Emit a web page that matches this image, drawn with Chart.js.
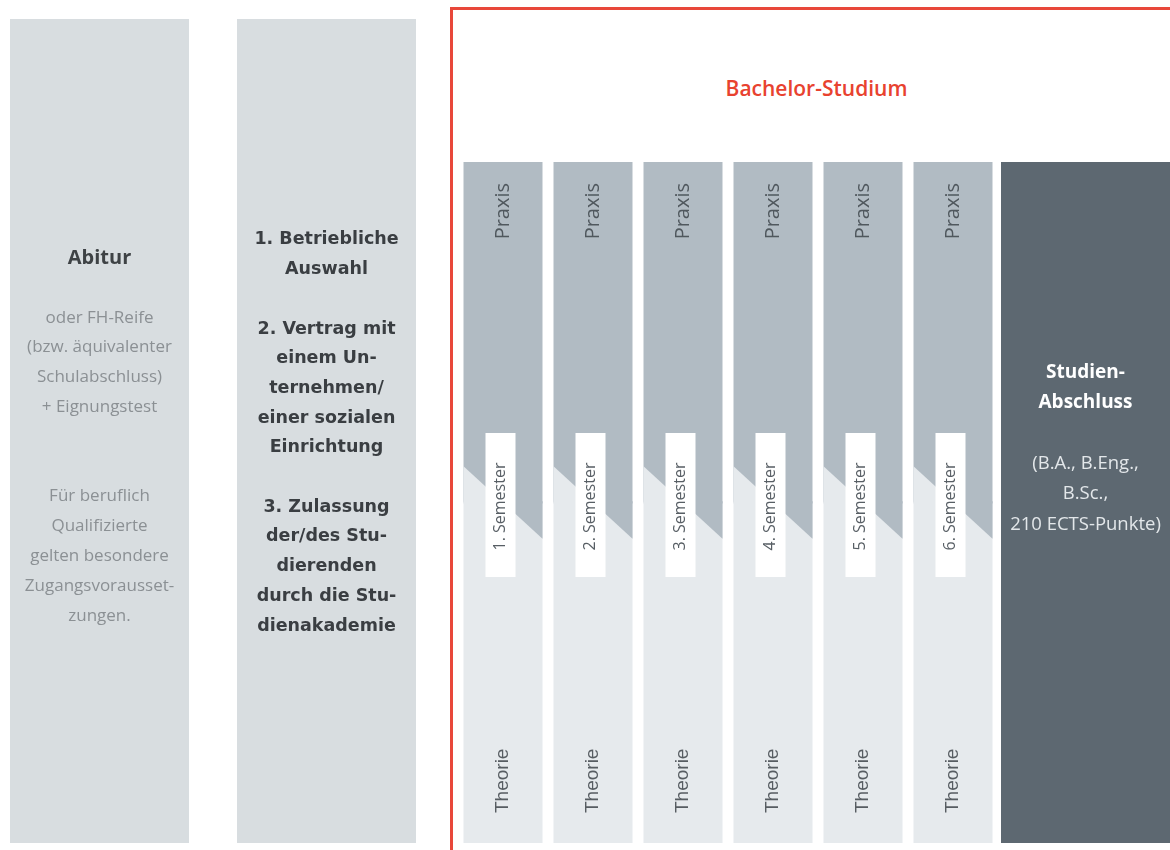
<!DOCTYPE html>
<html lang="de">
<head>
<meta charset="utf-8">
<title>Ablauf Bachelor-Studium</title>
<script src="https://cdn.jsdelivr.net/npm/chart.js@4.4.1/dist/chart.umd.min.js"></script>
<style>
  html, body { margin: 0; padding: 0; background: #ffffff; }
  body { position: relative; width: 1170px; height: 850px; overflow: hidden; }
  canvas { position: absolute; top: 0; }
  #zugangChart { left: -14px; }
  #semesterChart { left: 458px; }
  #abschlussChart { left: 1001px; }
  .rahmen {
    position: absolute; left: 450px; top: 7px; width: 740px; height: 880px;
    border: 3px solid #e8473a; box-sizing: border-box;
  }
  .titel {
    position: absolute; left: 452px; top: 74px; width: 729px; text-align: center;
    font: 600 21px 'Open Sans', sans-serif; color: #e8422f; line-height: 28px;
  }
</style>
</head>
<body>
<div class="rahmen"></div>
<div class="titel">Bachelor-Studium</div>
<canvas id="zugangChart" width="454" height="850"></canvas>
<canvas id="semesterChart" width="540" height="850"></canvas>
<canvas id="abschlussChart" width="169" height="850"></canvas>

<script>
// Daten
const zugangLabels = ['Abitur', 'Auswahl'];
const zugangWerte = [100, 100];
const semester = ['1. Semester', '2. Semester', '3. Semester', '4. Semester', '5. Semester', '6. Semester'];
const theorieAnteil = [50, 50, 50, 50, 50, 50];
const praxisAnteil = [50, 50, 50, 50, 50, 50];
const abschlussLabels = ['Studien-Abschluss'];
const abschlussWerte = [100];

// Texte (k = Kopfzeile, t = Text, '' = Leerzeile)
const abiturText = [
  ['k', 'Abitur'], ['', ''],
  ['t', 'oder FH-Reife'], ['t', '(bzw. äquivalenter'], ['t', 'Schulabschluss)'], ['t', '+ Eignungstest'],
  ['', ''], ['', ''],
  ['t', 'Für beruflich'], ['t', 'Qualifizierte'], ['t', 'gelten besondere'], ['t', 'Zugangsvorausset-'], ['t', 'zungen.']
];
const auswahlText = [
  ['k', '1. Betriebliche'], ['k', 'Auswahl'], ['', ''],
  ['k', '2. Vertrag mit'], ['k', 'einem Un-'], ['k', 'ternehmen/'], ['k', 'einer sozialen'], ['k', 'Einrichtung'], ['', ''],
  ['k', '3. Zulassung'], ['k', 'der/des Stu-'], ['k', 'dierenden'], ['k', 'durch die Stu-'], ['k', 'dienakademie']
];
const abschlussText = [
  ['k', 'Studien-'], ['k', 'Abschluss'], ['', ''],
  ['t', '(B.A., B.Eng.,'], ['t', 'B.Sc.,'], ['t', '210 ECTS-Punkte)']
];

const farben = {
  zugang: '#d8dde0',
  praxis: '#b1bbc3',
  theorie: '#e6eaed',
  abschluss: '#5d6871'
};

// Text mittig in die Balken schreiben
const spaltenText = {
  id: 'spaltenText',
  afterDatasetsDraw(chart, args, opts) {
    const ctx = chart.ctx;
    const bars = chart.getDatasetMeta(0).data;
    opts.bloecke.forEach((block, i) => {
      const bar = bars[i];
      const mitte = (bar.y + bar.base) / 2 + block.versatz;
      let y = mitte - (block.zeilen.length - 1) * block.zeilenhoehe / 2;
      ctx.save();
      ctx.textAlign = 'center';
      ctx.textBaseline = 'middle';
      block.zeilen.forEach(([art, text]) => {
        if (art) {
          ctx.font = block.stil[art].font;
          ctx.fillStyle = block.stil[art].farbe;
          ctx.fillText(text, bar.x, y);
        }
        y += block.zeilenhoehe;
      });
      ctx.restore();
    });
  }
};

// Schraege Trennung Praxis/Theorie, Semester-Schild, Beschriftungen
const semesterDeko = {
  id: 'semesterDeko',
  afterDatasetsDraw(chart) {
    const ctx = chart.ctx;
    const theo = chart.getDatasetMeta(0).data;
    const prax = chart.getDatasetMeta(1).data;
    const theoLabel = chart.data.datasets[0].label;
    const praxLabel = chart.data.datasets[1].label;
    prax.forEach((bar, i) => {
      const links = bar.x - bar.width / 2;
      const rechts = bar.x + bar.width / 2;
      const grenze = bar.base;
      const hang = bar.width * 0.46;

      ctx.save();
      // Naht zwischen den gestapelten Balken abdecken
      ctx.fillStyle = farben.theorie;
      ctx.fillRect(links, grenze - 1, bar.x - links, 2);
      ctx.fillStyle = farben.praxis;
      ctx.fillRect(bar.x, grenze - 1, rechts - bar.x, 2);

      ctx.fillStyle = farben.theorie;
      ctx.beginPath();
      ctx.moveTo(links, grenze - hang);
      ctx.lineTo(links, grenze + 1);
      ctx.lineTo(bar.x, grenze + 1);
      ctx.lineTo(bar.x, grenze);
      ctx.closePath();
      ctx.fill();

      ctx.fillStyle = farben.praxis;
      ctx.beginPath();
      ctx.moveTo(bar.x, grenze);
      ctx.lineTo(bar.x, grenze - 1);
      ctx.lineTo(rechts, grenze - 1);
      ctx.lineTo(rechts, grenze + hang);
      ctx.closePath();
      ctx.fill();

      // weisses Schild
      ctx.fillStyle = '#ffffff';
      ctx.fillRect(bar.x - 17.5, grenze - 69.5, 30, 144);

      ctx.textBaseline = 'middle';

      ctx.save();
      ctx.translate(bar.x - 2.5, grenze + 4);
      ctx.rotate(-Math.PI / 2);
      ctx.textAlign = 'center';
      ctx.font = '16px "Open Sans"';
      ctx.fillStyle = '#575e64';
      ctx.fillText(chart.data.labels[i], 0, 0);
      ctx.restore();

      ctx.save();
      ctx.translate(bar.x, bar.y + 21);
      ctx.rotate(-Math.PI / 2);
      ctx.textAlign = 'right';
      ctx.font = '20px "Open Sans"';
      ctx.fillStyle = '#50585e';
      ctx.fillText(praxLabel, 0, 0);
      ctx.restore();

      ctx.save();
      ctx.translate(theo[i].x, theo[i].base - 30);
      ctx.rotate(-Math.PI / 2);
      ctx.textAlign = 'left';
      ctx.font = '19px "Liberation Sans"';
      ctx.fillStyle = '#575d62';
      ctx.fillText(theoLabel, 0, 0);
      ctx.restore();

      ctx.restore();
    });
  }
};

const versteckteAchsen = {
  x: { display: false },
  y: { display: false, min: 0, max: 100 }
};

// Zugang: Abitur und Auswahl
new Chart(document.getElementById('zugangChart'), {
  type: 'bar',
  data: {
    labels: zugangLabels,
    datasets: [{
      data: zugangWerte,
      backgroundColor: farben.zugang,
      borderWidth: 0,
      categoryPercentage: 1,
      barPercentage: 179 / 227
    }]
  },
  options: {
    responsive: false,
    animation: false,
    layout: { padding: { top: 19, bottom: 7 } },
    scales: versteckteAchsen,
    plugins: {
      legend: { display: false },
      tooltip: { enabled: false },
      spaltenText: {
        bloecke: [
          {
            zeilen: abiturText, zeilenhoehe: 29.8, versatz: 6,
            stil: {
              k: { font: 'bold 20px "Open Sans"', farbe: '#3e4245' },
              t: { font: '17px "Open Sans"', farbe: '#8b9094' }
            }
          },
          {
            zeilen: auswahlText, zeilenhoehe: 29.7, versatz: 2,
            stil: {
              k: { font: 'bold 17.5px "DejaVu Sans"', farbe: '#3a3e42' }
            }
          }
        ]
      }
    }
  },
  plugins: [spaltenText]
});

// Bachelor-Studium: sechs Semester
new Chart(document.getElementById('semesterChart'), {
  type: 'bar',
  data: {
    labels: semester,
    datasets: [
      { label: 'Theorie', data: theorieAnteil, backgroundColor: farben.theorie, borderWidth: 0, stack: 'sem' },
      { label: 'Praxis', data: praxisAnteil, backgroundColor: farben.praxis, borderWidth: 0, stack: 'sem' }
    ]
  },
  options: {
    responsive: false,
    animation: false,
    layout: { padding: { top: 162, bottom: 7 } },
    datasets: { bar: { categoryPercentage: 1, barPercentage: 79 / 90 } },
    scales: {
      x: { display: false, stacked: true },
      y: { display: false, stacked: true, min: 0, max: 100 }
    },
    plugins: {
      legend: { display: false },
      tooltip: { enabled: false }
    }
  },
  plugins: [semesterDeko]
});

// Studien-Abschluss
new Chart(document.getElementById('abschlussChart'), {
  type: 'bar',
  data: {
    labels: abschlussLabels,
    datasets: [{
      data: abschlussWerte,
      backgroundColor: farben.abschluss,
      borderWidth: 0,
      categoryPercentage: 1,
      barPercentage: 1
    }]
  },
  options: {
    responsive: false,
    animation: false,
    layout: { padding: { top: 162, bottom: 7 } },
    scales: versteckteAchsen,
    plugins: {
      legend: { display: false },
      tooltip: { enabled: false },
      spaltenText: {
        bloecke: [
          {
            zeilen: abschlussText, zeilenhoehe: 30.4, versatz: -54,
            stil: {
              k: { font: 'bold 19px "Open Sans"', farbe: '#ffffff' },
              t: { font: '18.5px "Open Sans"', farbe: '#e3e7ea' }
            }
          }
        ]
      }
    }
  },
  plugins: [spaltenText]
});
</script>
</body>
</html>
